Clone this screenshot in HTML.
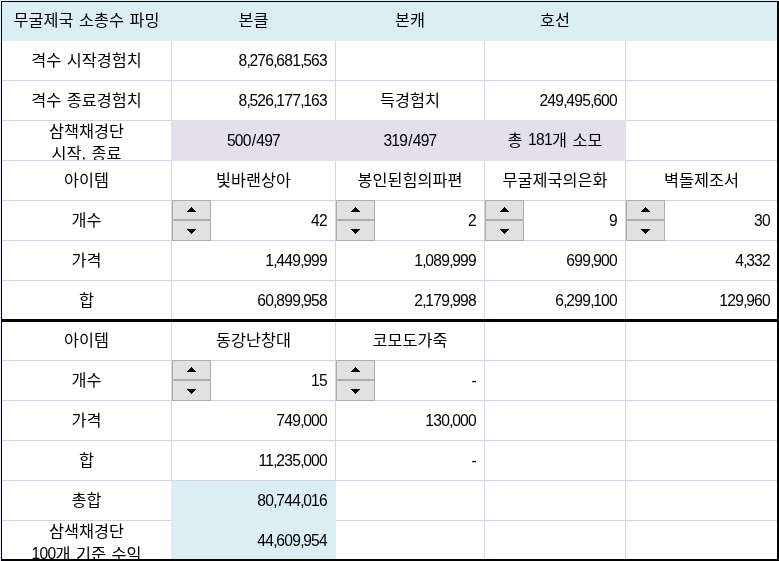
<!DOCTYPE html>
<html lang="ko"><head><meta charset="utf-8"><title>무굴제국 소총수 파밍</title>
<style>
html,body{margin:0;padding:0;}
body{width:779px;height:561px;overflow:hidden;background:#fff;position:relative;
 font-family:"Liberation Sans","Noto Sans CJK KR",sans-serif;font-size:16.3px;color:#000;}
#sheet{position:absolute;left:0;top:0;width:779px;height:561px;overflow:hidden;background:#fff;}
.f,.g,.k,.c,.sp{position:absolute;}
.g{background:#d1d5e7;}
.k{background:#000;}
.c{height:40px;line-height:40px;white-space:nowrap;overflow:visible;letter-spacing:0px;word-spacing:1px;}
.c.ce{text-align:center;}
.c.ri{text-align:right;}
.c.two{line-height:22px;text-align:center;overflow:hidden;}
.n{font-size:15.6px;letter-spacing:-0.73px;}
.n.x{position:relative;top:-1px;}
.lb{position:relative;top:1px;}
.n i{font-style:normal;letter-spacing:-1.3px;}
.n b{font-weight:normal;margin:0 0.95px;}
.sp{width:39px;height:41px;}
.sp i{position:absolute;left:0;width:37px;height:18px;border:1px solid #adadad;background:#e1e1e1;display:block;}
.sp i.u{top:0;} .sp i.d{top:20px;height:19px;}
.sp svg{position:absolute;left:0;top:0;}
</style></head><body><div id="sheet">

<div class="f" style="left:2px;top:2px;width:775px;height:39px;background:#daeef3"></div>
<div class="f" style="left:171px;top:120px;width:455px;height:41px;background:#e4dfec"></div>
<div class="f" style="left:171px;top:480px;width:165px;height:80px;background:#daeef3"></div>
<div class="c ce" style="left:2px;top:0px;width:169px">무굴제국 소총수 파밍</div>
<div class="c ce" style="left:172px;top:0px;width:163px">본클</div>
<div class="c ce" style="left:336px;top:0px;width:148px">본캐</div>
<div class="c ce" style="left:485px;top:0px;width:140px">호선</div>
<div class="c ce" style="left:2px;top:40px;width:169px">격수 시작경험치</div>
<div class="c ri" style="left:172px;top:40px;width:155px"><span class="n">8<i>,</i>276<i>,</i>681<i>,</i>563</span></div>
<div class="c ce" style="left:2px;top:80px;width:169px">격수 종료경험치</div>
<div class="c ri" style="left:172px;top:80px;width:155px"><span class="n">8<i>,</i>526<i>,</i>177<i>,</i>163</span></div>
<div class="c ce" style="left:336px;top:80px;width:148px">득경험치</div>
<div class="c ri" style="left:485px;top:80px;width:132px"><span class="n">249<i>,</i>495<i>,</i>600</span></div>
<div class="c two" style="left:2px;top:120px;width:169px">삼책채경단<br>시작, 종료</div>
<div class="c ce" style="left:172px;top:120px;width:163px"><span class="n">500<b>/</b>497</span></div>
<div class="c ce" style="left:336px;top:120px;width:148px"><span class="n">319<b>/</b>497</span></div>
<div class="c ce" style="left:485px;top:120px;width:140px">총 <span class="n x">181</span>개 소모</div>
<div class="c ce" style="left:2px;top:160px;width:169px">아이템</div>
<div class="c ce" style="left:172px;top:160px;width:163px">빛바랜상아</div>
<div class="c ce" style="left:336px;top:160px;width:148px">봉인된힘의파편</div>
<div class="c ce" style="left:485px;top:160px;width:140px">무굴제국의은화</div>
<div class="c ce" style="left:626px;top:160px;width:151px">벽돌제조서</div>
<div class="c ce" style="left:2px;top:200px;width:169px">개수</div>
<div class="c ri" style="left:172px;top:200px;width:155px"><span class="n">42</span></div>
<div class="c ri" style="left:336px;top:200px;width:140px"><span class="n">2</span></div>
<div class="c ri" style="left:485px;top:200px;width:132px"><span class="n">9</span></div>
<div class="c ri" style="left:626px;top:200px;width:144px"><span class="n">30</span></div>
<div class="c ce" style="left:2px;top:240px;width:169px">가격</div>
<div class="c ri" style="left:172px;top:240px;width:155px"><span class="n">1<i>,</i>449<i>,</i>999</span></div>
<div class="c ri" style="left:336px;top:240px;width:140px"><span class="n">1<i>,</i>089<i>,</i>999</span></div>
<div class="c ri" style="left:485px;top:240px;width:132px"><span class="n">699<i>,</i>900</span></div>
<div class="c ri" style="left:626px;top:240px;width:144px"><span class="n">4<i>,</i>332</span></div>
<div class="c ce" style="left:2px;top:280px;width:169px">합</div>
<div class="c ri" style="left:172px;top:280px;width:155px"><span class="n">60<i>,</i>899<i>,</i>958</span></div>
<div class="c ri" style="left:336px;top:280px;width:140px"><span class="n">2<i>,</i>179<i>,</i>998</span></div>
<div class="c ri" style="left:485px;top:280px;width:132px"><span class="n">6<i>,</i>299<i>,</i>100</span></div>
<div class="c ri" style="left:626px;top:280px;width:144px"><span class="n">129<i>,</i>960</span></div>
<div class="c ce" style="left:2px;top:320px;width:169px">아이템</div>
<div class="c ce" style="left:172px;top:320px;width:163px">동강난창대</div>
<div class="c ce" style="left:336px;top:320px;width:148px">코모도가죽</div>
<div class="c ce" style="left:2px;top:360px;width:169px">개수</div>
<div class="c ri" style="left:172px;top:360px;width:155px"><span class="n">15</span></div>
<div class="c ri" style="left:336px;top:360px;width:140px"><span class="n">-</span></div>
<div class="c ce" style="left:2px;top:400px;width:169px">가격</div>
<div class="c ri" style="left:172px;top:400px;width:155px"><span class="n">749<i>,</i>000</span></div>
<div class="c ri" style="left:336px;top:400px;width:140px"><span class="n">130<i>,</i>000</span></div>
<div class="c ce" style="left:2px;top:440px;width:169px">합</div>
<div class="c ri" style="left:172px;top:440px;width:155px"><span class="n">11<i>,</i>235<i>,</i>000</span></div>
<div class="c ri" style="left:336px;top:440px;width:140px"><span class="n">-</span></div>
<div class="c ce" style="left:2px;top:480px;width:169px">총합</div>
<div class="c ri" style="left:172px;top:480px;width:155px"><span class="n">80<i>,</i>744<i>,</i>016</span></div>
<div class="c two" style="left:2px;top:520px;width:169px">삼색채경단<br><span class="lb"><span class="n x">100</span>개 기준 수익</span></div>
<div class="c ri" style="left:172px;top:520px;width:155px"><span class="n">44<i>,</i>609<i>,</i>954</span></div>
<div class="g" style="left:2px;top:80px;width:775px;height:1px"></div>
<div class="g" style="left:2px;top:120px;width:169px;height:1px"></div>
<div class="g" style="left:626px;top:120px;width:151px;height:1px"></div>
<div class="g" style="left:2px;top:160px;width:169px;height:1px"></div>
<div class="g" style="left:626px;top:160px;width:151px;height:1px"></div>
<div class="g" style="left:2px;top:200px;width:775px;height:1px"></div>
<div class="g" style="left:2px;top:240px;width:775px;height:1px"></div>
<div class="g" style="left:2px;top:280px;width:775px;height:1px"></div>
<div class="g" style="left:2px;top:360px;width:775px;height:1px"></div>
<div class="g" style="left:2px;top:400px;width:775px;height:1px"></div>
<div class="g" style="left:2px;top:440px;width:775px;height:1px"></div>
<div class="g" style="left:2px;top:480px;width:775px;height:1px"></div>
<div class="g" style="left:2px;top:520px;width:169px;height:1px"></div>
<div class="g" style="left:336px;top:520px;width:441px;height:1px"></div>
<div class="g" style="left:171px;top:41px;width:1px;height:79px"></div>
<div class="g" style="left:171px;top:161px;width:1px;height:319px"></div>
<div class="g" style="left:171px;top:322px;width:1px;height:158px"></div>
<div class="g" style="left:335px;top:41px;width:1px;height:79px"></div>
<div class="g" style="left:335px;top:161px;width:1px;height:319px"></div>
<div class="g" style="left:484px;top:41px;width:1px;height:79px"></div>
<div class="g" style="left:484px;top:161px;width:1px;height:398px"></div>
<div class="g" style="left:625px;top:41px;width:1px;height:79px"></div>
<div class="g" style="left:625px;top:161px;width:1px;height:398px"></div>
<div class="f" style="left:0;top:0;width:779px;height:1px;background:#e6eef6"></div>
<div class="f" style="left:0;top:0;width:1px;height:561px;background:#e4ecf8"></div>
<div class="k" style="left:1px;top:1px;width:778px;height:1px"></div>
<div class="k" style="left:1px;top:1px;width:1px;height:560px"></div>
<div class="k" style="left:777px;top:1px;width:2px;height:560px"></div>
<div class="k" style="left:1px;top:559px;width:778px;height:2px"></div>
<div class="k" style="left:1px;top:319px;width:778px;height:3px"></div>
<div class="sp" style="left:172px;top:200px"><i class="u"></i><i class="d"></i><svg width="39" height="41" viewBox="0 0 39 41" shape-rendering="crispEdges" fill="#000"><rect x="19" y="7" width="1" height="1"/><rect x="18" y="8" width="3" height="1"/><rect x="17" y="9" width="5" height="1"/><rect x="16" y="10" width="7" height="1"/><rect x="15" y="11" width="9" height="1"/><rect x="15" y="29" width="9" height="1"/><rect x="16" y="30" width="7" height="1"/><rect x="17" y="31" width="5" height="1"/><rect x="18" y="32" width="3" height="1"/><rect x="19" y="33" width="1" height="1"/></svg></div>
<div class="sp" style="left:336px;top:200px"><i class="u"></i><i class="d"></i><svg width="39" height="41" viewBox="0 0 39 41" shape-rendering="crispEdges" fill="#000"><rect x="19" y="7" width="1" height="1"/><rect x="18" y="8" width="3" height="1"/><rect x="17" y="9" width="5" height="1"/><rect x="16" y="10" width="7" height="1"/><rect x="15" y="11" width="9" height="1"/><rect x="15" y="29" width="9" height="1"/><rect x="16" y="30" width="7" height="1"/><rect x="17" y="31" width="5" height="1"/><rect x="18" y="32" width="3" height="1"/><rect x="19" y="33" width="1" height="1"/></svg></div>
<div class="sp" style="left:485px;top:200px"><i class="u"></i><i class="d"></i><svg width="39" height="41" viewBox="0 0 39 41" shape-rendering="crispEdges" fill="#000"><rect x="19" y="7" width="1" height="1"/><rect x="18" y="8" width="3" height="1"/><rect x="17" y="9" width="5" height="1"/><rect x="16" y="10" width="7" height="1"/><rect x="15" y="11" width="9" height="1"/><rect x="15" y="29" width="9" height="1"/><rect x="16" y="30" width="7" height="1"/><rect x="17" y="31" width="5" height="1"/><rect x="18" y="32" width="3" height="1"/><rect x="19" y="33" width="1" height="1"/></svg></div>
<div class="sp" style="left:626px;top:200px"><i class="u"></i><i class="d"></i><svg width="39" height="41" viewBox="0 0 39 41" shape-rendering="crispEdges" fill="#000"><rect x="19" y="7" width="1" height="1"/><rect x="18" y="8" width="3" height="1"/><rect x="17" y="9" width="5" height="1"/><rect x="16" y="10" width="7" height="1"/><rect x="15" y="11" width="9" height="1"/><rect x="15" y="29" width="9" height="1"/><rect x="16" y="30" width="7" height="1"/><rect x="17" y="31" width="5" height="1"/><rect x="18" y="32" width="3" height="1"/><rect x="19" y="33" width="1" height="1"/></svg></div>
<div class="sp" style="left:172px;top:360px"><i class="u"></i><i class="d"></i><svg width="39" height="41" viewBox="0 0 39 41" shape-rendering="crispEdges" fill="#000"><rect x="19" y="7" width="1" height="1"/><rect x="18" y="8" width="3" height="1"/><rect x="17" y="9" width="5" height="1"/><rect x="16" y="10" width="7" height="1"/><rect x="15" y="11" width="9" height="1"/><rect x="15" y="29" width="9" height="1"/><rect x="16" y="30" width="7" height="1"/><rect x="17" y="31" width="5" height="1"/><rect x="18" y="32" width="3" height="1"/><rect x="19" y="33" width="1" height="1"/></svg></div>
<div class="sp" style="left:336px;top:360px"><i class="u"></i><i class="d"></i><svg width="39" height="41" viewBox="0 0 39 41" shape-rendering="crispEdges" fill="#000"><rect x="19" y="7" width="1" height="1"/><rect x="18" y="8" width="3" height="1"/><rect x="17" y="9" width="5" height="1"/><rect x="16" y="10" width="7" height="1"/><rect x="15" y="11" width="9" height="1"/><rect x="15" y="29" width="9" height="1"/><rect x="16" y="30" width="7" height="1"/><rect x="17" y="31" width="5" height="1"/><rect x="18" y="32" width="3" height="1"/><rect x="19" y="33" width="1" height="1"/></svg></div>
</div></body></html>
